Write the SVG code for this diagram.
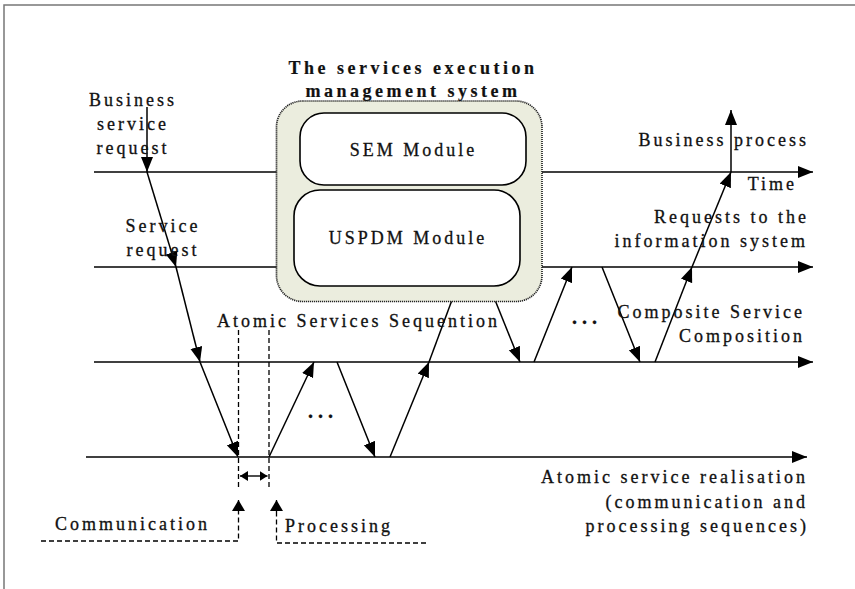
<svg xmlns="http://www.w3.org/2000/svg" width="855" height="589" viewBox="0 0 855 589">
  <style>
    text { font-family: "Liberation Serif", "DejaVu Serif", serif; font-size: 18px; letter-spacing: 3px; fill: #111; stroke: #111; stroke-width: 0.3; }
    .title { font-weight: bold; letter-spacing: 3.5px; stroke-width: 0.2; }
    .dots { font-weight: bold; font-size: 20px; letter-spacing: 5px; }
    .end { text-anchor: end; }
    .mid { text-anchor: middle; }
    .line { stroke: #000; stroke-width: 1.5; fill: none; }
    .arr { stroke: #000; stroke-width: 1.5; fill: none; marker-end: url(#head); }
    .dash { stroke: #000; stroke-width: 1.3; fill: none; stroke-dasharray: 5 3; }
    .frame { stroke: #777; stroke-width: 1.5; fill: none; }
  </style>
  <defs>
    <marker id="head" markerUnits="userSpaceOnUse" markerWidth="16" markerHeight="13" refX="15" refY="6" orient="auto">
      <path d="M0,0 L15,6 L0,12 z" fill="#000"/>
    </marker>
    <marker id="small" markerUnits="userSpaceOnUse" markerWidth="12" markerHeight="14" refX="11" refY="6.5" orient="auto">
      <path d="M0,0 L11,6.5 L0,13 z" fill="#000"/>
    </marker>
    <marker id="tiny" markerUnits="userSpaceOnUse" markerWidth="9" markerHeight="11" refX="8" refY="5" orient="auto-start-reverse">
      <path d="M0,0 L8,5 L0,10 z" fill="#000"/>
    </marker>
  </defs>

  <!-- page frame -->
  <path class="frame" d="M4,589 V5 H855"/>

  <g id="connectors">
    <!-- time axes -->
    <line class="arr" x1="94" y1="172" x2="813" y2="172"/>
    <line class="arr" x1="94" y1="267" x2="813" y2="267"/>
    <line class="arr" x1="94" y1="362" x2="813" y2="362"/>
    <line class="arr" x1="86" y1="457" x2="807" y2="457"/>

    <!-- request / response flow -->
    <line class="arr" x1="147" y1="107" x2="147" y2="172"/>
    <line class="arr" x1="147" y1="172" x2="176" y2="267"/>
    <line class="arr" x1="176" y1="267" x2="200" y2="362"/>
    <line class="arr" x1="200" y1="362" x2="238" y2="457"/>
    <line class="arr" x1="269" y1="457" x2="314" y2="362"/>
    <line class="arr" x1="337" y1="362" x2="375" y2="457"/>
    <line class="arr" x1="390" y1="457" x2="429" y2="362"/>
    <line class="line" x1="429" y1="362" x2="452" y2="300"/>
    <line class="arr" x1="495" y1="300" x2="520" y2="362"/>
    <line class="arr" x1="534" y1="362" x2="572" y2="267"/>
    <line class="arr" x1="602" y1="267" x2="640" y2="362"/>
    <line class="arr" x1="655" y1="362" x2="692" y2="267"/>
    <line class="arr" x1="692" y1="267" x2="731" y2="172"/>
    <line class="arr" x1="731" y1="172" x2="731" y2="110"/>

    <!-- communication / processing interval -->
    <line class="dash" x1="238.5" y1="330" x2="238.5" y2="488"/>
    <line class="dash" x1="269" y1="330" x2="269" y2="488"/>
    <line stroke="#000" stroke-width="1.4" x1="240" y1="476" x2="267.5" y2="476" marker-start="url(#tiny)" marker-end="url(#tiny)"/>
    <path class="dash" d="M41,541 H238.5 V512"/>
    <line stroke="#000" stroke-width="1.3" x1="238.5" y1="512" x2="238.5" y2="500" marker-end="url(#small)"/>
    <path class="dash" d="M426,543 H276.5 V512"/>
    <line stroke="#000" stroke-width="1.3" x1="276.5" y1="512" x2="276.5" y2="500" marker-end="url(#small)"/>
  </g>

  <g id="sem-system">
    <text class="title mid" x="413" y="74">The services execution</text>
    <text class="title mid" x="413" y="97">management system</text>
    <rect x="276.5" y="101" width="265.5" height="200.5" rx="26" ry="26" fill="#EBEDDE" stroke="#222" stroke-width="1.7" stroke-dasharray="1.2 0.8"/>
  </g>

  <g id="sem-module">
    <rect x="300" y="113" width="226" height="72" rx="24" ry="24" fill="#fff" stroke="#000" stroke-width="1.6"/>
    <text class="mid" x="413.5" y="156">SEM Module</text>
  </g>

  <g id="uspdm-module">
    <rect x="294" y="190" width="226" height="96" rx="26" ry="26" fill="#fff" stroke="#000" stroke-width="1.6"/>
    <text class="mid" x="408" y="244">USPDM Module</text>
  </g>

  <g id="labels">
    <text class="mid" x="133" y="106">Business</text>
    <text class="mid" x="133" y="130">service</text>
    <text class="mid" x="133" y="154">request</text>
    <text class="mid" x="163" y="232">Service</text>
    <text class="mid" x="163" y="256">request</text>

    <text class="end" x="809" y="146">Business process</text>
    <text class="end" x="797" y="190">Time</text>
    <text class="end" x="809" y="223">Requests to the</text>
    <text class="end" x="808" y="247">information system</text>

    <text x="217" y="327">Atomic Services Sequention</text>
    <text class="end" x="805" y="318">Composite Service</text>
    <text class="end" x="805" y="342">Composition</text>
    <text class="dots" x="572" y="324">...</text>
    <text class="dots" x="308" y="418">...</text>

    <text class="end" x="808" y="483">Atomic service realisation</text>
    <text class="end" x="808" y="508">(communication and</text>
    <text class="end" x="809" y="532">processing sequences)</text>

    <text x="55" y="530">Communication</text>
    <text x="285" y="532">Processing</text>
  </g>
</svg>
